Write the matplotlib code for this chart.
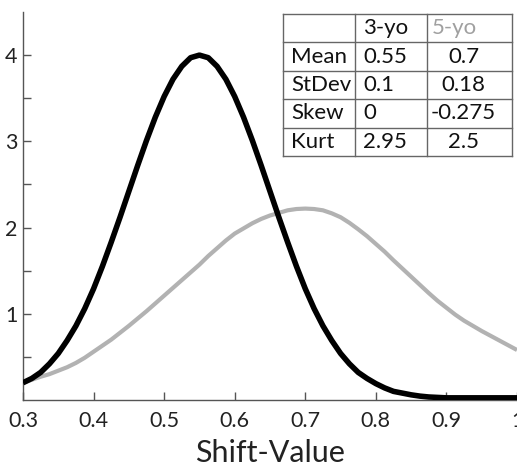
import matplotlib
matplotlib.use("Agg")
import matplotlib.pyplot as plt

plt.rcParams['font.family'] = ['Lato', 'DejaVu Sans']

# ---- data ----
shift_values = [0.3000, 0.3125, 0.3250, 0.3375, 0.3500, 0.3625, 0.3750, 0.3875,
                0.4000, 0.4125, 0.4250, 0.4375, 0.4500, 0.4625, 0.4750, 0.4875,
                0.5000, 0.5125, 0.5250, 0.5375, 0.5500, 0.5625, 0.5750, 0.5875,
                0.6000, 0.6125, 0.6250, 0.6375, 0.6500, 0.6625, 0.6750, 0.6875,
                0.7000, 0.7125, 0.7250, 0.7375, 0.7500, 0.7625, 0.7750, 0.7875,
                0.8000, 0.8125, 0.8250, 0.8375, 0.8500, 0.8625, 0.8750, 0.8875,
                0.9000, 0.9125, 0.9250, 0.9375, 0.9500, 0.9625, 0.9750, 0.9875,
                1.0000]
density_3yo = [0.20, 0.25, 0.32, 0.42, 0.54, 0.69, 0.86, 1.06,
               1.29, 1.55, 1.83, 2.12, 2.42, 2.72, 3.01, 3.28,
               3.52, 3.72, 3.87, 3.97, 4.00, 3.97, 3.87, 3.72,
               3.52, 3.28, 3.01, 2.72, 2.42, 2.12, 1.83, 1.55,
               1.29, 1.06, 0.86, 0.69, 0.54, 0.42, 0.32, 0.25,
               0.19, 0.14, 0.10, 0.08, 0.06, 0.045, 0.035, 0.03,
               0.025, 0.025, 0.025, 0.025, 0.025, 0.025, 0.025, 0.025,
               0.025]
density_5yo = [0.20, 0.235, 0.27, 0.30, 0.34, 0.38, 0.43, 0.49,
               0.56, 0.63, 0.70, 0.78, 0.86, 0.945, 1.03, 1.12,
               1.21, 1.30, 1.39, 1.48, 1.57, 1.67, 1.76, 1.85,
               1.93, 1.99, 2.05, 2.10, 2.14, 2.17, 2.20, 2.215,
               2.22, 2.215, 2.20, 2.165, 2.12, 2.055, 1.98, 1.90,
               1.81, 1.72, 1.62, 1.525, 1.43, 1.335, 1.24, 1.15,
               1.07, 0.99, 0.92, 0.86, 0.80, 0.745, 0.69, 0.635,
               0.58]

x_ticks = [0.3, 0.4, 0.5, 0.6, 0.7, 0.8, 0.9, 1.0]
x_tick_labels = ['0.3', '0.4', '0.5', '0.6', '0.7', '0.8', '0.9', '1']
y_ticks = [1, 2, 3, 4]
y_minor_ticks = [0.5, 1.5, 2.5, 3.5]

table_rows = ['Mean', 'StDev', 'Skew', 'Kurt']
table_cols = ['3-yo', '5-yo']
table_3yo = ['0.55', '0.1', '0', '2.95']
table_5yo = ['0.7', '0.18', '-0.275', '2.5']

# ---- figure ----
W, H = 517, 471
fig = plt.figure(figsize=(W / 100, H / 100), dpi=100)
ax = fig.add_axes([23 / W, 1 - 400 / H, (517 - 23) / W, (400 - 12) / H])

ax.plot(shift_values, density_5yo, color='#b2b2b2', lw=3.0, solid_capstyle='butt',
        solid_joinstyle='round', zorder=2)
ax.plot(shift_values, density_3yo, color='black', lw=4.0, solid_capstyle='butt',
        solid_joinstyle='round', zorder=3)

ax.set_xlim(0.3, 1.0)
ax.set_ylim(0, 4.5)
for s in ['top', 'right']:
    ax.spines[s].set_visible(False)
for s in ['left', 'bottom']:
    ax.spines[s].set_color('#555555')
    ax.spines[s].set_linewidth(1.0)

ax.set_xticks(x_ticks)
ax.set_xticklabels(x_tick_labels)
ax.set_yticks(y_ticks)
ax.set_yticks(y_minor_ticks, minor=True)
ax.tick_params(axis='both', which='both', direction='in', length=6, width=1,
               color='#555555', labelsize=15.5, labelcolor='#222222')
ax.tick_params(axis='x', pad=8)
ax.tick_params(axis='y', pad=4)
ax.set_xlabel('Shift-Value', fontsize=22, color='#222222', labelpad=6)

# ---- table ----
tx0, tx1, ty0, ty1 = 283, 512, 14, 156
tax = fig.add_axes([tx0 / W, 1 - ty1 / H, (tx1 - tx0) / W, (ty1 - ty0) / H])
tax.set_xlim(tx0, tx1)
tax.set_ylim(ty1, ty0)
tax.axis('off')
col_edges = [283, 355, 427, 512]
n_rows = len(table_rows) + 1
row_h = (ty1 - ty0) / n_rows
line_kw = dict(color='#666666', lw=1.0, solid_capstyle='projecting')
for xe in col_edges:
    tax.plot([xe, xe], [ty0, ty1], clip_on=False, **line_kw)
for i in range(n_rows + 1):
    yy = ty0 + i * row_h
    tax.plot([tx0, tx1], [yy, yy], clip_on=False, **line_kw)

fs = 16
tc = '#111111'
tax.text(col_edges[1] + 8, ty0 + row_h * 0.5, table_cols[0], fontsize=fs, color=tc,
         ha='left', va='center')
tax.text(col_edges[2] + 5, ty0 + row_h * 0.5, table_cols[1], fontsize=fs, color='#a0a0a0',
         ha='left', va='center')
for i, (rn, v3, v5) in enumerate(zip(table_rows, table_3yo, table_5yo)):
    yc = ty0 + row_h * (i + 1.5)
    tax.text(tx0 + 8, yc, rn, fontsize=fs, color=tc, ha='left', va='center')
    tax.text(col_edges[1] + 8, yc, v3, fontsize=fs, color=tc, ha='left', va='center')
    tax.text((col_edges[2] + col_edges[3]) / 2 - 6, yc, v5, fontsize=fs, color=tc,
             ha='center', va='center')

fig.savefig('out.png', dpi=100)
